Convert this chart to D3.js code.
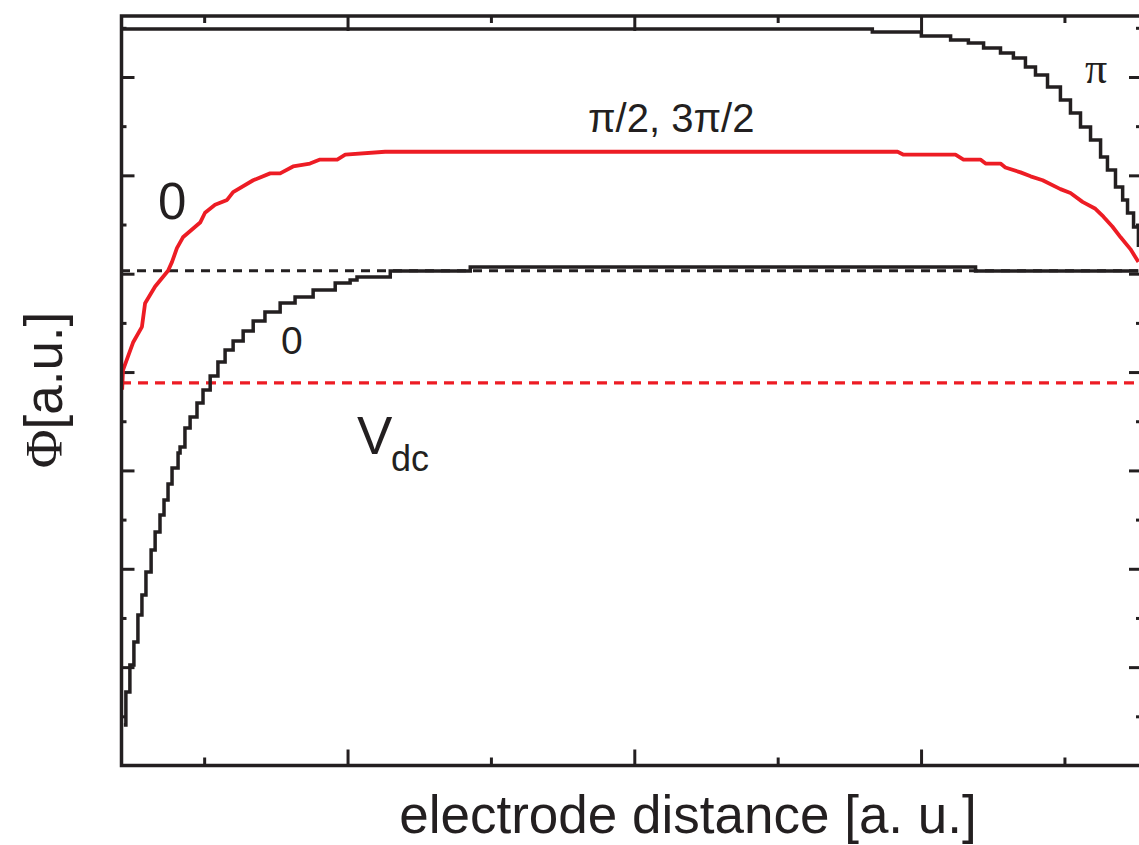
<!DOCTYPE html>
<html>
<head>
<meta charset="utf-8">
<script src="https://cdn.jsdelivr.net/npm/d3@7/dist/d3.min.js"></script>
<style>
  html, body { margin: 0; padding: 0; background: #fff; }
  svg { display: block; }
  text { font-family: "Liberation Sans", Arial, Helvetica, sans-serif; fill: #231f20; }
</style>
</head>
<body>
<svg id="chart" width="1139" height="845"></svg>
<script>
// ---- data (arbitrary units) ----
const xMajorTicks = [1, 2, 3];
const xMinorTicks = [0.5, 1.5, 2.5, 3.5];
const yMajorTicks = [1, 2, 3, 4, 5, 6, 7];
const yMinorTicks = [0.5, 1.5, 2.5, 3.5, 4.5, 5.5, 6.5, 7.5];

// red curve (phase pi/2, 3pi/2 and 0)
const redX = [0.214, 0.217, 0.252, 0.283, 0.294, 0.329, 0.374, 0.388, 0.405, 0.426,
              0.486, 0.503, 0.538, 0.580, 0.601, 0.671, 0.730, 0.765, 0.810, 0.869,
              0.904, 0.964, 0.992, 1.131, 2.918, 2.939, 3.120, 3.148, 3.207, 3.225,
              3.277, 3.294, 3.347, 3.382, 3.424, 3.486, 3.521, 3.563, 3.608, 3.636,
              3.667, 3.696, 3.730, 3.758];
const redY = [3.82, 4.02, 4.30, 4.46, 4.70, 4.87, 5.03, 5.12, 5.26, 5.37,
              5.52, 5.62, 5.70, 5.75, 5.83, 5.95, 6.02, 6.02, 6.09, 6.12,
              6.16, 6.16, 6.21, 6.24, 6.24, 6.21, 6.21, 6.16, 6.16, 6.12,
              6.12, 6.08, 6.03, 5.99, 5.95, 5.86, 5.82, 5.73, 5.66, 5.58,
              5.48, 5.37, 5.25, 5.12];

// black curve, phase pi
const piX = [0.210, 2.830, 3.001, 3.103, 3.165, 3.218, 3.277, 3.322, 3.364, 3.399,
             3.441, 3.486, 3.521, 3.556, 3.591, 3.626, 3.650, 3.678, 3.703, 3.720,
             3.741, 3.758];
const piY = [7.488, 7.458, 7.417, 7.376, 7.346, 7.295, 7.244, 7.193, 7.102, 7.020,
             6.898, 6.766, 6.634, 6.491, 6.359, 6.186, 6.054, 5.881, 5.749, 5.617,
             5.475, 5.272];

// black curve, phase 0
const zeroX = [0.220, 0.227, 0.241, 0.255, 0.269, 0.283, 0.297, 0.315, 0.329, 0.346,
               0.360, 0.374, 0.388, 0.409, 0.416, 0.433, 0.451, 0.475, 0.496, 0.521,
               0.548, 0.573, 0.601, 0.636, 0.671, 0.712, 0.765, 0.817, 0.880, 0.957,
               1.009, 1.033, 1.149, 1.428, 3.190, 3.758];
const zeroY = [0.412, 0.747, 1.022, 1.256, 1.530, 1.733, 1.967, 2.191, 2.374, 2.547,
               2.699, 2.862, 3.025, 3.177, 3.238, 3.431, 3.543, 3.685, 3.818, 3.960,
               4.103, 4.225, 4.316, 4.418, 4.520, 4.611, 4.703, 4.764, 4.835, 4.906,
               4.936, 4.967, 5.028, 5.069, 5.028, 5.028];

// reference levels (dashed)
const blackRefLevel = 5.03;
const vdcLevel = 3.89;

// ---- layout ----
const ink = "#231f20";
const red = "#ed1c24";
const svg = d3.select("#chart");
const frameL = 121.5, frameR = 1141, frameT = 16, frameB = 765.5;

const x = d3.scaleLinear().domain([0.21, 3.76]).range([121, 1139]);
const y = d3.scaleLinear().domain([0, 7.62]).range([765.5, 16]);

function styleAxis(g) {
  g.select(".domain").remove();
  g.selectAll(".tick line").attr("stroke", ink).attr("stroke-width", 3);
  g.selectAll(".tick text").remove();
}

// ticks (inward) on all four sides
const axes = [
  [() => d3.axisLeft(y), `translate(${frameL},0)`, yMajorTicks, yMinorTicks, 13, 5],
  [() => d3.axisRight(y), `translate(${frameR},0)`, yMajorTicks, yMinorTicks, 12, 5],
  [() => d3.axisBottom(x), `translate(0,${frameB})`, xMajorTicks, xMinorTicks, 16, 8],
  [() => d3.axisTop(x), `translate(0,${frameT})`, xMajorTicks, xMinorTicks, 15, 7]
];
axes.forEach(([mk, tr, maj, min, lmaj, lmin]) => {
  svg.append("g").attr("transform", tr)
    .call(mk().tickValues(maj).tickSize(-lmaj).tickFormat(""))
    .call(styleAxis);
  svg.append("g").attr("transform", tr)
    .call(mk().tickValues(min).tickSize(-lmin).tickFormat(""))
    .call(styleAxis);
});

// dashed reference lines
svg.append("line")
  .attr("x1", x(0.21)).attr("x2", x(3.76))
  .attr("y1", y(blackRefLevel)).attr("y2", y(blackRefLevel))
  .attr("stroke", ink).attr("stroke-width", 3.2).attr("stroke-dasharray", "9,7");
svg.append("line")
  .attr("x1", x(0.21)).attr("x2", x(3.76))
  .attr("y1", y(vdcLevel)).attr("y2", y(vdcLevel))
  .attr("stroke", red).attr("stroke-width", 3.2).attr("stroke-dasharray", "10,7");

// curves
const zip = (xs, ys) => xs.map((v, i) => [v, ys[i]]);
const stepLine = d3.line().x(d => x(d[0])).y(d => y(d[1])).curve(d3.curveStepAfter);
const smoothLine = d3.line().x(d => x(d[0])).y(d => y(d[1])).curve(d3.curveLinear);

svg.append("path").datum(zip(zeroX, zeroY))
  .attr("d", stepLine).attr("fill", "none").attr("stroke", ink).attr("stroke-width", 3.5);
svg.append("path").datum(zip(piX, piY))
  .attr("d", stepLine).attr("fill", "none").attr("stroke", ink).attr("stroke-width", 3.5);
svg.append("path").datum(zip(redX, redY))
  .attr("d", smoothLine).attr("fill", "none").attr("stroke", red).attr("stroke-width", 3.8)
  .attr("stroke-linejoin", "round");

// frame
svg.append("rect")
  .attr("x", frameL).attr("y", frameT)
  .attr("width", frameR - frameL).attr("height", frameB - frameT)
  .attr("fill", "none").attr("stroke", ink).attr("stroke-width", 3.5);

// annotations
svg.append("text").attr("x", 588).attr("y", 132).attr("font-size", 40).text("π/2, 3π/2");
svg.append("text").attr("x", 1085).attr("y", 83).attr("font-size", 44)
  .style("font-family", "'Liberation Serif', 'Times New Roman', serif").text("π");
svg.append("text").attr("x", 158).attr("y", 219).attr("font-size", 51).text("0");
svg.append("text").attr("x", 281).attr("y", 354).attr("font-size", 39).text("0");
const vdc = svg.append("text").attr("x", 357).attr("y", 454).attr("font-size", 53);
vdc.append("tspan").text("V");
vdc.append("tspan").attr("x", 391).attr("y", 471).attr("font-size", 36).text("dc");

// axis titles
svg.append("text").attr("x", 688).attr("y", 833).attr("font-size", 53)
  .attr("text-anchor", "middle").text("electrode distance [a. u.]");
const yl = svg.append("text")
  .attr("transform", "translate(62,390) rotate(-90)")
  .attr("text-anchor", "middle").attr("font-size", 53);
yl.append("tspan").style("font-family", "'Liberation Serif', 'Times New Roman', serif").text("Φ");
yl.append("tspan").text("[a.u.]");
</script>
</body>
</html>
